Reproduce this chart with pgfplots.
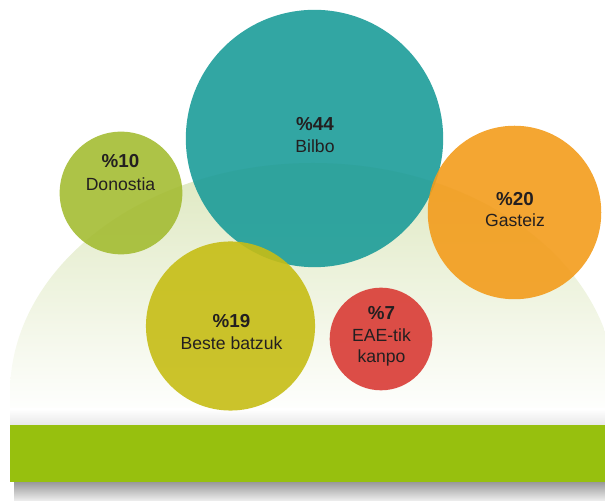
\documentclass[border=0pt]{standalone}
\usepackage{pgfplots}
\pgfplotsset{compat=1.18}
\usepackage{fontspec}
\setmainfont{Liberation Sans}

\definecolor{bgTop}{RGB}{222,232,192}
\definecolor{barGreen}{RGB}{151,192,14}
\definecolor{txt}{RGB}{35,31,32}
\definecolor{cBilbo}{RGB}{28,156,153}
\definecolor{cDonostia}{RGB}{164,188,51}
\definecolor{cGasteiz}{RGB}{243,156,28}
\definecolor{cBeste}{RGB}{198,189,21}
\definecolor{cEAE}{RGB}{217,59,53}

\pgfplotsset{
    % #1 colour, #2 share in percent (bubble area proportional to it)
    bubble/.style 2 args={
        only marks, mark=*,
        mark size={19.47*sqrt(#2)},
        mark options={draw=#1, draw opacity=0, fill=#1, fill opacity=0.9},
    },
}
\tikzset{
    pct/.style={anchor=base, text=txt, font=\fontsize{18.8bp}{22bp}\selectfont\bfseries},
    lbl/.style={anchor=base, text=txt, font=\fontsize{17.6bp}{21bp}\selectfont},
}

\begin{document}
\begin{tikzpicture}[x=1bp, y=1bp]
\useasboundingbox (0,0) rectangle (605,501);
\begin{scope}
\clip (0,0) rectangle (605,501);
% background dome
\shade[top color=bgTop, bottom color=white]
    (10,84) -- (10,108) arc[start angle=180, end angle=0, x radius=303, y radius=230] -- (616,84) -- cycle;
% soft shadows around the bar
\shade[top color=white, bottom color=black!9] (10,76) rectangle (605,92);
\shade[top color=black!40, bottom color=black!6] (14,0) rectangle (605,19);
\fill[barGreen] (10,19) rectangle (605,76);
\end{scope}

\begin{axis}[
    at={(0,0)}, anchor=south west,
    x=1bp, y=1bp, scale only axis,
    xmin=0, xmax=605, ymin=0, ymax=501,
    hide axis, clip=true,
]
\addplot[bubble={cBilbo}{44}] coordinates {(314.5,362.5)};
\addplot[bubble={cDonostia}{10}] coordinates {(121,308)};
\addplot[bubble={cGasteiz}{20}] coordinates {(514.5,288.5)};
\addplot[bubble={cBeste}{19}] coordinates {(230.5,175)};
\addplot[bubble={cEAE}{7}] coordinates {(381,162)};

\coordinate (p1) at (axis cs:315,370);   \coordinate (l1) at (axis cs:315,348);
\coordinate (p2) at (axis cs:120.5,333); \coordinate (l2) at (axis cs:120.5,310);
\coordinate (p3) at (axis cs:515,295);   \coordinate (l3) at (axis cs:515,274);
\coordinate (p4) at (axis cs:231.5,173); \coordinate (l4) at (axis cs:231.5,151);
\coordinate (p5) at (axis cs:381.5,181); \coordinate (l5) at (axis cs:381.5,159);
\coordinate (m5) at (axis cs:381.5,138);
\end{axis}

% labels on top of the bubbles
\node[pct] at (p1) {\%44};
\node[lbl] at (l1) {Bilbo};
\node[pct] at (p2) {\%10};
\node[lbl] at (l2) {Donostia};
\node[pct] at (p3) {\%20};
\node[lbl] at (l3) {Gasteiz};
\node[pct] at (p4) {\%19};
\node[lbl] at (l4) {Beste batzuk};
\node[pct] at (p5) {\%7};
\node[lbl] at (l5) {EAE-tik};
\node[lbl] at (m5) {kanpo};
\end{tikzpicture}
\end{document}
